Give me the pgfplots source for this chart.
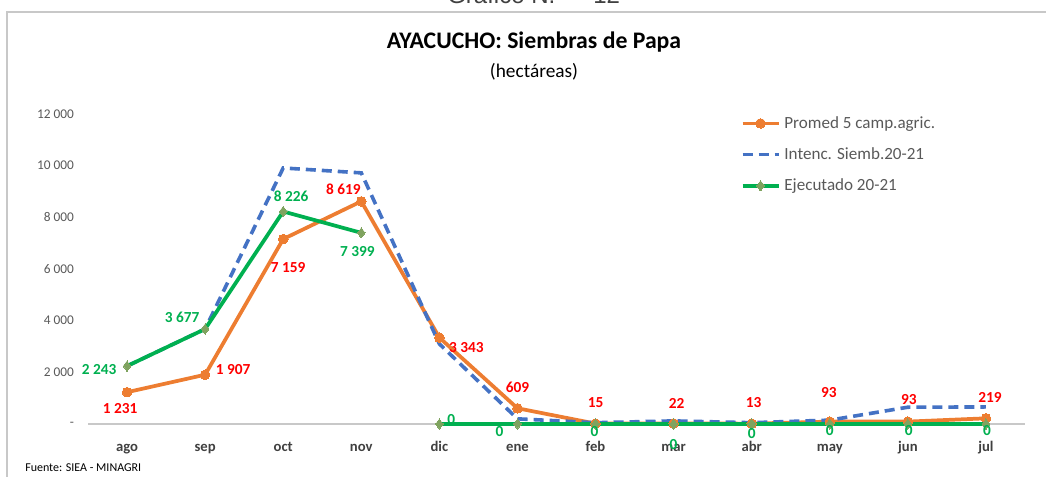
\documentclass[border=0pt]{standalone}
\usepackage{pgfplots}
\pgfplotsset{compat=1.18}
\usepackage{pgfplotstable}
\usepackage{fontspec}
\setmainfont{Carlito}
\newfontfamily\arialfont{Liberation Sans}
\definecolor{cOrange}{HTML}{ED7D31}
\definecolor{cBlue}{HTML}{4472C4}
\definecolor{cGreen}{HTML}{00B050}
\definecolor{cGreenMk}{HTML}{7FA35F}
\definecolor{cRed}{HTML}{FF0000}
\definecolor{cText}{HTML}{595959}
\definecolor{cDark}{HTML}{404040}
\definecolor{cFrame}{HTML}{C8C8C8}

% x = month index (0 = ago ... 11 = jul); dx, dy = label offsets in px
\pgfplotstableread{
x y dx dy
0 1231 -7 -16
1 1907 28 5
2 7159 5 -28
3 8619 -18 12
4 3343 27 -10
5 609 0 21
6 15 0 21
7 22 3 20
8 13 2 21
9 93 -1 29
10 93 1 22
11 219 4 21
}\promed

\pgfplotstableread{
x y
0 2243
1 3677
2 9910
3 9720
4 3100
5 200
6 50
7 120
8 50
9 150
10 650
11 660
}\intenc

\pgfplotstableread{
x y dx dy
0 2243 -28 -3
1 3677 -23 12
2 8226 8 15
3 7399 -4 -19
3.5 nan 0 0
4 0 12 4
5 0 -18 -8
6 0 -1 -8
7 0 0 -21
8 0 0 -10
9 0 0 -7
10 0 1 -7
11 0 1 -7
}\ejec

\pgfplotsset{
  labelplot/.style={
    draw=none, mark=none, forget plot,
    point meta=explicit,
    nodes near coords={\pgfmathprintnumber[fixed,precision=0,1000 sep={\ }]{\pgfplotspointmeta}},
    every node near coord/.append style={anchor=center, font=\bfseries\fontsize{11.5pt}{12pt}\selectfont, inner sep=0pt, text=#1},
  }
}
% 1 px in x = 1/78.08 units, 1 px in y = 38.71 units

\begin{document}
\begin{tikzpicture}[x=0.75pt,y=0.75pt]
\useasboundingbox (0,0) rectangle (1046,477);
% frame
\draw[cFrame, line width=1.2pt] (7,0) -- (7,465) -- (1046,465);
% cut header
\node[anchor=base west, inner sep=0, font=\arialfont\fontsize{18pt}{20pt}\selectfont, text=cDark] at (447,473) {Gráfico N.°};
\node[anchor=base west, inner sep=0, font=\arialfont\fontsize{18pt}{20pt}\selectfont, text=cDark] at (593,473) {12};
% titles
\node[font=\bfseries\fontsize{17.8pt}{19pt}\selectfont, text=black] at (534,435) {AYACUCHO: Siembras de Papa};
\node[font=\fontsize{14.5pt}{16pt}\selectfont, text=black] at (534,405) {(hectáreas)};
% source
\node[anchor=base west, inner sep=0, font=\fontsize{9pt}{10pt}\selectfont, text=black] at (25,5) {Fuente: SIEA - MINAGRI};

\begin{axis}[
  at={(66pt,39.75pt)}, anchor=south west,
  scale only axis, width=702.75pt, height=232.5pt,
  xmin=-0.5, xmax=11.5, ymin=0, ymax=12000,
  clip=false,
  scaled y ticks=false,
  axis lines*=left,
  axis line style={-},
  x axis line style={-, draw=cFrame, line width=0.9pt},
  y axis line style={draw=none},
  /pgf/number format/assume math mode=true,
  xtick={0,...,11},
  xticklabels={ago,sep,oct,nov,dic,ene,feb,mar,abr,may,jun,jul},
  xtick style={draw=none},
  xticklabel style={font=\bfseries\fontsize{11pt}{12pt}\selectfont, text=cDark, anchor=base, yshift=-20.5pt},
  extra x ticks={-0.5,0.5,...,11.5},
  extra x tick labels={},
  extra x tick style={tick align=outside, major tick length=6pt, tick style={draw=cFrame, line width=0.9pt}},
  ytick={0,2000,...,12000},
  yticklabels={-,2 000,4 000,6 000,8 000,10 000,12 000},
  ytick style={draw=none},
  yticklabel style={font=\fontsize{10pt}{11pt}\selectfont, text=cText, xshift=-7pt},
  legend style={at={(0.692,1.01)}, anchor=north west, draw=none, fill=none,
    font=\fontsize{12.8pt}{14pt}\selectfont, text=cText, row sep=9pt,
    /tikz/every odd column/.append style={column sep=1pt}},
  legend cell align=left,
  legend image code/.code={\draw[mark repeat=2,mark phase=2,#1] plot coordinates {(0pt,0pt) (13.5pt,0pt) (27pt,0pt)};},
  unbounded coords=jump,
]
\addplot[cOrange, line width=2.8pt, mark=*, mark size=3.6pt, mark options={fill=cOrange, draw=cOrange, line width=0pt}]
  table[x=x,y=y]{\promed};
\addlegendentry{Promed 5 camp.agric.}
\addplot[cBlue, line width=2.7pt, dash pattern=on 7.5pt off 4.5pt, no marks]
  table[x=x,y=y]{\intenc};
\addlegendentry{Intenc. Siemb.20-21}
\addplot[cGreen, line width=2.8pt, mark=diamond*, mark size=3.8pt, mark options={fill=cGreenMk, draw=cGreenMk, line width=0pt}]
  table[x=x,y=y]{\ejec};
\addlegendentry{Ejecutado 20-21}
% data labels
\addplot[labelplot=cRed]
  table[x expr={\thisrow{x}+\thisrow{dx}/78.08}, y expr={\thisrow{y}+\thisrow{dy}*38.71}, meta=y]{\promed};
\addplot[labelplot=cGreen]
  table[x expr={\thisrow{x}+\thisrow{dx}/78.08}, y expr={\thisrow{y}+\thisrow{dy}*38.71}, meta=y]{\ejec};
\end{axis}
\end{tikzpicture}
\end{document}
